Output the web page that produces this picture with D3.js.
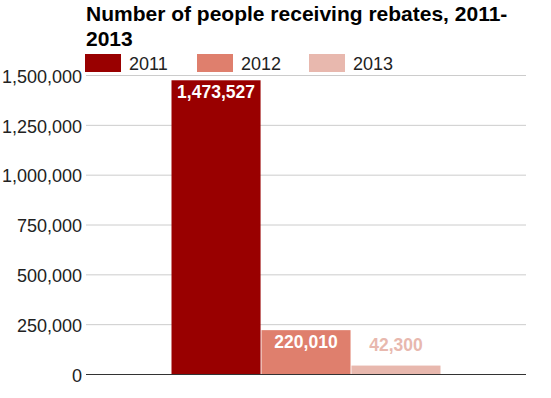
<!DOCTYPE html>
<html>
<head>
<meta charset="utf-8">
<script src="https://d3js.org/d3.v7.min.js"></script>
<style>
body { margin: 0; background: #fff; }
text { font-family: "Liberation Sans", Arial, sans-serif; }
.grid line { stroke: #cccccc; }
.axis--y path, .axis--y line { display: none; }
.axis--y text { font-size: 18px; fill: #222; }
</style>
</head>
<body>
<svg id="vis" width="551" height="398"></svg>
<script>
var years = ['2011', '2012', '2013'];
var values = [1473527, 220010, 42300];
var colors = ['#990000', '#df7f6d', '#e8b8ae'];
var yTicks = [0, 250000, 500000, 750000, 1000000, 1250000, 1500000];

var svg = d3.select('#vis');
var margin = {left: 86, right: 25, top: 75, bottom: 24};
var width = 551 - margin.left - margin.right;
var height = 398 - margin.top - margin.bottom;

var g = svg.append('g').attr('transform', `translate(${margin.left},${margin.top})`);

var y = d3.scaleLinear().domain([0, 1500000]).range([height, 0]);
var x = d3.scaleBand().domain(years).range([width / 2 - 134.5, width / 2 + 134.5]).paddingInner(0.01);

g.append('g').attr('class', 'grid')
  .call(d3.axisLeft(y).tickValues(yTicks).tickSize(-width).tickFormat(''))
  .call(s => s.select('.domain').remove());

g.append('g').attr('class', 'axis--y')
  .attr('transform', 'translate(-4,0)')
  .call(d3.axisLeft(y).tickValues(yTicks).tickSize(0).tickPadding(0).tickFormat(d3.format(',')))
  .call(s => s.selectAll('text').attr('dy', '0.4em'));

g.selectAll('.bar')
  .data(years).enter().append('rect')
  .attr('class', 'bar')
  .attr('x', d => x(d))
  .attr('width', x.bandwidth())
  .attr('y', (d, i) => y(values[i]))
  .attr('height', (d, i) => height - y(values[i]))
  .style('fill', (d, i) => colors[i]);

g.append('line')
  .attr('x1', 0).attr('x2', width)
  .attr('y1', height + 0.5).attr('y2', height + 0.5)
  .style('stroke', '#333');

g.selectAll('.val')
  .data(years).enter().append('text')
  .attr('class', 'val')
  .attr('x', d => x(d) + x.bandwidth() / 2)
  .attr('y', (d, i) => {
    var top = y(values[i]);
    return (height - top) > 30 ? top + 18 : top - 15;
  })
  .attr('text-anchor', 'middle')
  .style('font-size', '17.5px')
  .style('font-weight', 'bold')
  .style('fill', (d, i) => (height - y(values[i])) > 30 ? '#fff' : colors[i])
  .text((d, i) => d3.format(',')(values[i]));

svg.append('text')
  .attr('x', 86).attr('y', 21)
  .style('font-size', '21px').style('font-weight', 'bold').style('fill', '#000')
  .text('Number of people receiving rebates, 2011-');
svg.append('text')
  .attr('x', 86).attr('y', 46)
  .style('font-size', '21px').style('font-weight', 'bold').style('fill', '#000')
  .text('2013');

var legX = [85, 197, 309];
var leg = svg.selectAll('.leg')
  .data(years).enter().append('g')
  .attr('class', 'leg')
  .attr('transform', (d, i) => `translate(${legX[i]},54)`);
leg.append('rect').attr('width', 36).attr('height', 18).style('fill', (d, i) => colors[i]);
leg.append('text').attr('x', 44).attr('y', 15.5)
  .style('font-size', '18px').style('fill', '#222')
  .text(d => d);
</script>
</body>
</html>
